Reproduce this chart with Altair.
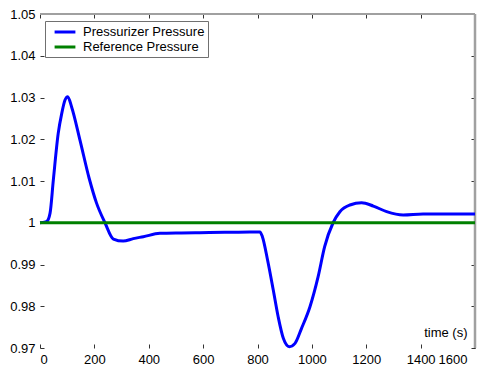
import altair as alt
import pandas as pd

# ---- data ----
time_s = [0, 20, 25, 37, 49, 67, 80, 92, 102, 116, 147, 181, 208, 239, 270, 306,
          343, 380, 441, 520, 588, 680, 772, 809, 818, 837, 858, 876, 895, 917,
          938, 962, 993, 1023, 1047, 1078, 1103, 1140, 1183, 1226, 1275, 1336,
          1409, 1500, 1600]
pressurizer = [1.0, 1.0002, 1.0003, 1.0023, 1.0102, 1.0214, 1.0262, 1.0294, 1.0302,
               1.0278, 1.0198, 1.0106, 1.0047, 1.0000, 0.9961, 0.9956,
               0.9962, 0.99666, 0.99746, 0.99755, 0.9976, 0.9977, 0.9978, 0.9978,
               0.99666, 0.99108, 0.98389, 0.97749, 0.97232, 0.97031,
               0.97111, 0.97471, 0.97989, 0.98708, 0.99427, 1.0000, 1.00265,
               1.00425, 1.0048, 1.0040, 1.00265, 1.00186, 1.0021, 1.0021, 1.0021]
ref_time = [0, 1600]
reference = [1.0, 1.0]

series_names = ["Pressurizer Pressure", "Reference Pressure"]
series_colors = ["#0000ff", "#008000"]
x_ticks = [0, 200, 400, 600, 800, 1000, 1200, 1400, 1600]
y_ticks = [0.97, 0.98, 0.99, 1.0, 1.01, 1.02, 1.03, 1.04, 1.05]
X_MIN, X_MAX = 0, 1600
Y_MIN, Y_MAX = 0.97, 1.05
x_title = "time (s)"

df_p = pd.DataFrame({"t": time_s, "p": pressurizer, "series": series_names[0]})
df_r = pd.DataFrame({"t": ref_time, "p": reference, "series": series_names[1]})

FONT = "Liberation Sans"
TICK = "#333333"
BORDER = "#a0a0a0"

xscale = alt.Scale(domain=[X_MIN, X_MAX], nice=False, zero=False)
yscale = alt.Scale(domain=[Y_MIN, Y_MAX], nice=False, zero=False)

color = alt.Color(
    "series:N",
    scale=alt.Scale(domain=series_names, range=series_colors),
    legend=alt.Legend(
        title=None, orient="none", legendX=5, legendY=7,
        strokeColor="#707070", fillColor="white", padding=3,
        symbolType="M-1.6,0H1.6", symbolSize=169, symbolStrokeWidth=3,
        symbolOffset=9,
        labelFont=FONT, labelFontSize=13, labelColor="black",
        labelOffset=10, rowPadding=0,
    ),
)

bottom_axis = alt.Axis(
    orient="bottom", values=x_ticks, format="d", offset=-4, tickSize=4,
    tickColor=TICK, domain=False, grid=False, labelPadding=5,
    labelOffset={"condition": {"test": f"datum.value >= {X_MAX}", "value": -8},
                 "value": 0},
    labelFont=FONT, labelFontSize=13, labelColor="black",
    title=x_title, titleFont=FONT, titleFontSize=13, titleFontWeight="normal",
    titleColor="black", titleX=427, titleY=-8, titleAlign="right",
    titleBaseline="alphabetic",
)
left_axis = alt.Axis(
    orient="left", values=y_ticks, format=".2~f", offset=-4, tickSize=4,
    tickColor=TICK, domain=False, grid=False, labelPadding=5,
    labelFont=FONT, labelFontSize=13, labelColor="black", title=None,
)
top_axis = alt.Axis(
    orient="top", values=x_ticks, offset=-4, tickSize=4, tickColor=TICK,
    domain=False, grid=False, labels=False, title=None,
)
right_axis = alt.Axis(
    orient="right", values=y_ticks, offset=-4, tickSize=4, tickColor=TICK,
    domain=False, grid=False, labels=False, title=None,
)

one_row = alt.Data(values=[{}])
top_border = alt.Chart(one_row).mark_rule(color=BORDER, strokeWidth=2).encode(
    y=alt.YDatum(Y_MAX, scale=yscale, axis=None)
)
right_border = alt.Chart(one_row).mark_rule(color=BORDER, strokeWidth=2.5).encode(
    x=alt.XDatum(X_MAX, scale=xscale, axis=None)
)

press = alt.Chart(df_p).mark_line(strokeWidth=3, interpolate="monotone").encode(
    x=alt.X("t:Q", scale=xscale, axis=bottom_axis),
    y=alt.Y("p:Q", scale=yscale, axis=left_axis),
    color=color,
)
ref = alt.Chart(df_r).mark_line(strokeWidth=3).encode(
    x=alt.X("t:Q", scale=xscale, axis=top_axis),
    y=alt.Y("p:Q", scale=yscale, axis=right_axis),
    color=color,
)

chart = alt.layer(top_border, right_border, press, ref).properties(
    width=435, height=334,
    padding={"left": 32, "top": 6, "right": 7, "bottom": 19},
    autosize=alt.AutoSizeParams(type="none"),
    background="white",
).configure_view(stroke=None)

chart.save("out.html", embed_options={"renderer": "svg", "actions": False})
